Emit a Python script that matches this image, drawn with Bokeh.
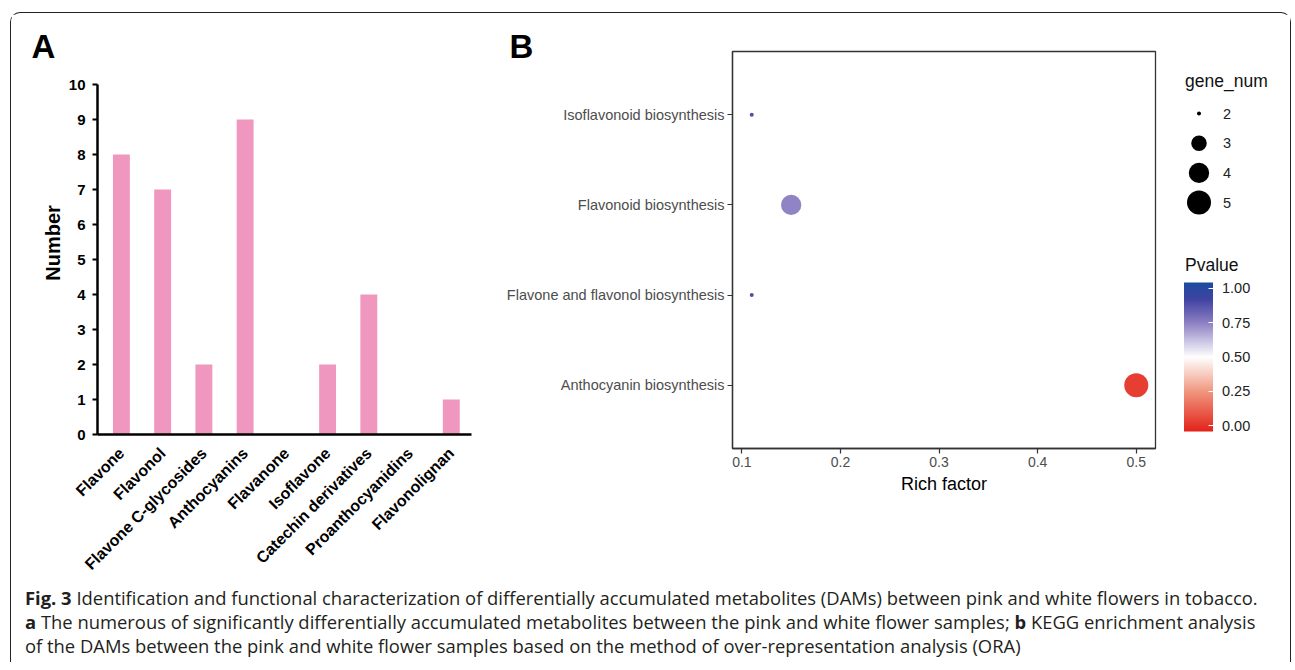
import numpy as np
from bokeh.plotting import figure
from bokeh.models import (Range1d, FactorRange, FixedTicker, ColumnDataSource,
                          LinearColorMapper, ColorBar, Div)
from bokeh.layouts import row, column
from bokeh.embed import file_html
from bokeh.resources import INLINE
from bokeh.core.properties import value
from bokeh.transform import transform

# ---------------- data ----------------
classes = ["Flavone", "Flavonol", "Flavone C-glycosides", "Anthocyanins", "Flavanone",
           "Isoflavone", "Catechin derivatives", "Proanthocyanidins", "Flavonolignan"]
counts = [8, 7, 2, 9, 0, 2, 4, 0, 1]
a_yticks = list(range(0, 11))

pathways = ["Isoflavonoid biosynthesis", "Flavonoid biosynthesis",
            "Flavone and flavonol biosynthesis", "Anthocyanin biosynthesis"]
rich_factor = [0.11, 0.15, 0.11, 0.50]
gene_num = [2, 4, 2, 5]
pvalue = [0.88, 0.74, 0.88, 0.03]
b_xticks = [0.1, 0.2, 0.3, 0.4, 0.5]
legend_gene_num = [2, 3, 4, 5]
pvalue_ticks = [0.0, 0.25, 0.5, 0.75, 1.0]

panel_letters = ["A", "B"]
caption_lines = [
    ("Fig. 3", " Identification and functional characterization of differentially accumulated metabolites (DAMs) between pink and white flowers in tobacco."),
    ("a", " The numerous of significantly differentially accumulated metabolites between the pink and white flower samples; <b>b</b> KEGG enrichment analysis"),
    ("", "of the DAMs between the pink and white flower samples based on the method of over-representation analysis (ORA)"),
]

SANS = "Liberation Sans"
TOP = 37          # common top border (px)
BOTTOM = 136      # common bottom border (px)


def size_of(g):
    # ggplot2 scale_size area palette, range 1..6 (scaled to px)
    return 4.0 * (1 + 5 * np.sqrt((np.asarray(g, float) - 2) / 3.0))


# ---------------- colour palette (red - white - blue) ----------------
p_low, p_high = -0.04, 1.04
stops = [(-0.04, "#E3231B"), (0.25, "#F0977F"), (0.5, "#FFFFFF"),
         (0.75, "#8C7FC2"), (0.92, "#4043A2"), (1.04, "#1B4C9E")]


def hex2rgb(h):
    return np.array([int(h[i:i + 2], 16) for i in (1, 3, 5)], float)


sv = np.array([s[0] for s in stops])
sc = np.array([hex2rgb(s[1]) for s in stops])
palette = []
for t in np.linspace(p_low, p_high, 256):
    rgb = [np.interp(t, sv, sc[:, k]) for k in range(3)]
    palette.append("#%02x%02x%02x" % tuple(int(round(c)) for c in rgb))
mapper = LinearColorMapper(palette=palette, low=p_low, high=p_high)

# ---------------- panel A ----------------
pA = figure(frame_width=374, frame_height=383,
            x_range=Range1d(-0.58, 8.49), y_range=Range1d(0, 10 + 33 / 35.0),
            min_border_left=86, min_border_right=28, min_border_top=TOP,
            min_border_bottom=BOTTOM,
            output_backend="svg", toolbar_location=None)
pA.vbar(x=list(range(len(classes))), top=counts, width=0.41, bottom=0,
        fill_color="#EF97BE", line_color=None)
pA.grid.visible = False
pA.outline_line_color = None
pA.xaxis.ticker = FixedTicker(ticks=list(range(len(classes))))
pA.xaxis.major_label_overrides = {i: c for i, c in enumerate(classes)}
pA.xaxis.major_label_orientation = np.pi / 4
pA.xaxis.major_tick_line_color = None
pA.xaxis.major_tick_out = 0
pA.xaxis.major_tick_in = 0
pA.xaxis.minor_tick_line_color = None
pA.xaxis.major_label_standoff = 16
pA.yaxis.ticker = FixedTicker(ticks=a_yticks)
pA.yaxis.bounds = (0, 10)
pA.yaxis.major_tick_out = 5
pA.yaxis.major_tick_in = 0
pA.yaxis.major_tick_line_width = 2
pA.yaxis.minor_tick_line_color = None
pA.yaxis.major_label_standoff = 7
pA.yaxis.axis_label = "Number"
pA.yaxis.axis_label_standoff = 2
pA.axis.axis_line_width = 2.5
pA.axis.axis_line_color = "black"
pA.axis.major_label_text_font = SANS
pA.axis.major_label_text_font_style = "bold"
pA.axis.major_label_text_color = "black"
pA.xaxis.major_label_text_font_size = "16px"
pA.yaxis.major_label_text_font_size = "15px"
pA.yaxis.axis_label_text_font = SANS
pA.yaxis.axis_label_text_font_style = "bold"
pA.yaxis.axis_label_text_font_size = "20px"
pA.yaxis.axis_label_text_color = "black"

# ---------------- panel B ----------------
src = ColumnDataSource(dict(path=pathways, rf=rich_factor, g=gene_num, p=pvalue,
                            sz=size_of(gene_num)))
pB = figure(frame_width=423, frame_height=397,
            x_range=Range1d(0.0905, 0.5195),
            y_range=FactorRange(factors=pathways[::-1], range_padding=0.2,
                                range_padding_units="absolute"),
            min_border_left=233, min_border_right=4, min_border_top=TOP,
            min_border_bottom=BOTTOM,
            output_backend="svg", toolbar_location=None)
pB.scatter(x="rf", y="path", size="sz", source=src, line_color=None,
           fill_color=transform("p", mapper))
pB.grid.visible = False
pB.outline_line_color = "#333333"
pB.outline_line_width = 1.3
pB.axis.axis_line_color = "#333333"
pB.axis.axis_line_width = 1.3
pB.axis.major_tick_line_color = "#333333"
pB.axis.major_tick_line_width = 1.2
pB.axis.major_tick_out = 5
pB.axis.major_tick_in = 0
pB.axis.minor_tick_line_color = None
pB.axis.major_label_text_font = SANS
pB.axis.major_label_text_color = "#4D4D4D"
pB.yaxis.major_label_text_font_size = "14.5px"
pB.xaxis.major_label_text_font_size = "14px"
pB.xaxis.ticker = FixedTicker(ticks=b_xticks)
pB.xaxis.major_label_standoff = 3
pB.yaxis.major_label_standoff = 3
pB.xaxis.axis_label = "Rich factor"
pB.xaxis.axis_label_text_font = SANS
pB.xaxis.axis_label_text_font_style = "normal"
pB.xaxis.axis_label_text_font_size = "18px"
pB.xaxis.axis_label_text_color = "black"
pB.xaxis.axis_label_standoff = 4

# ---------------- legends (coordinates = window pixels) ----------------
pL = figure(frame_width=131, frame_height=397,
            x_range=Range1d(1159.5, 1290.5), y_range=Range1d(449, 52),
            min_border_left=0, min_border_right=0, min_border_top=TOP,
            min_border_bottom=BOTTOM, x_axis_location=None, y_axis_location=None,
            output_backend="svg", toolbar_location=None)
pL.grid.visible = False
pL.outline_line_color = None
leg_y = [114 + 29.7 * i for i in range(len(legend_gene_num))]
pL.scatter(x=[1199] * len(legend_gene_num), y=leg_y, size=size_of(legend_gene_num),
           fill_color="black", line_color=None)
pL.text(x=[1223] * len(legend_gene_num), y=leg_y, text=[str(g) for g in legend_gene_num],
        text_font=value(SANS), text_font_size="14.5px", text_baseline="middle",
        text_color="#222222")
pL.text(x=[1185, 1185], y=[81, 265], text=["gene_num", "Pvalue"],
        text_font=value(SANS), text_font_size="17.5px", text_baseline="middle",
        text_color="#111111")
cbar = ColorBar(color_mapper=mapper, width=29, height=149, location=(24.5, 449 - 432),
                padding=0, ticker=FixedTicker(ticks=pvalue_ticks),
                major_label_overrides={t: "%.2f" % t for t in pvalue_ticks},
                major_tick_line_color="white", major_tick_in=5, major_tick_out=0,
                minor_tick_line_color=None, label_standoff=9,
                major_label_text_font=SANS, major_label_text_font_size="14.5px",
                major_label_text_color="#222222",
                background_fill_color=None, border_line_color=None, bar_line_color=None)
pL.add_layout(cbar)

# ---------------- panel letters (overlay, zero-height strip) ----------------
letter_left = [20.5, 498.5]
spans = "".join(
    '<span style="position:absolute;left:%.1fpx;top:5px;font-family:\'%s\';'
    'font-weight:bold;font-size:33px;line-height:1;color:#000;">%s</span>'
    % (lx, SANS, t) for lx, t in zip(letter_left, panel_letters))
letters = Div(text='<div style="position:relative;width:0;height:0;z-index:20;">' + spans + '</div>',
              width=1270, height=1, margin=(0, 0, 0, 0),
              styles={"z-index": "20", "overflow": "visible"})

# ---------------- caption ----------------
html_lines = []
for b, rest in caption_lines:
    if b:
        html_lines.append("<b>%s</b>%s" % (b, rest))
    else:
        html_lines.append(rest)
cap = Div(text=('<div style="font-family:\'Open Sans\';font-size:18.4px;line-height:24px;'
                'color:#231f20;white-space:nowrap;">' + "<br>".join(html_lines) + "</div>"),
          width=1260, height=76, margin=(2, 0, 0, 14))

layout = column(letters, row(pA, pB, pL), cap, margin=(12, 0, 0, 10),
                styles={"border": "1.5px solid #222", "border-bottom": "none",
                        "border-radius": "10px 10px 0 0", "background": "white"})

open("out.html", "w").write(file_html(layout, INLINE))
